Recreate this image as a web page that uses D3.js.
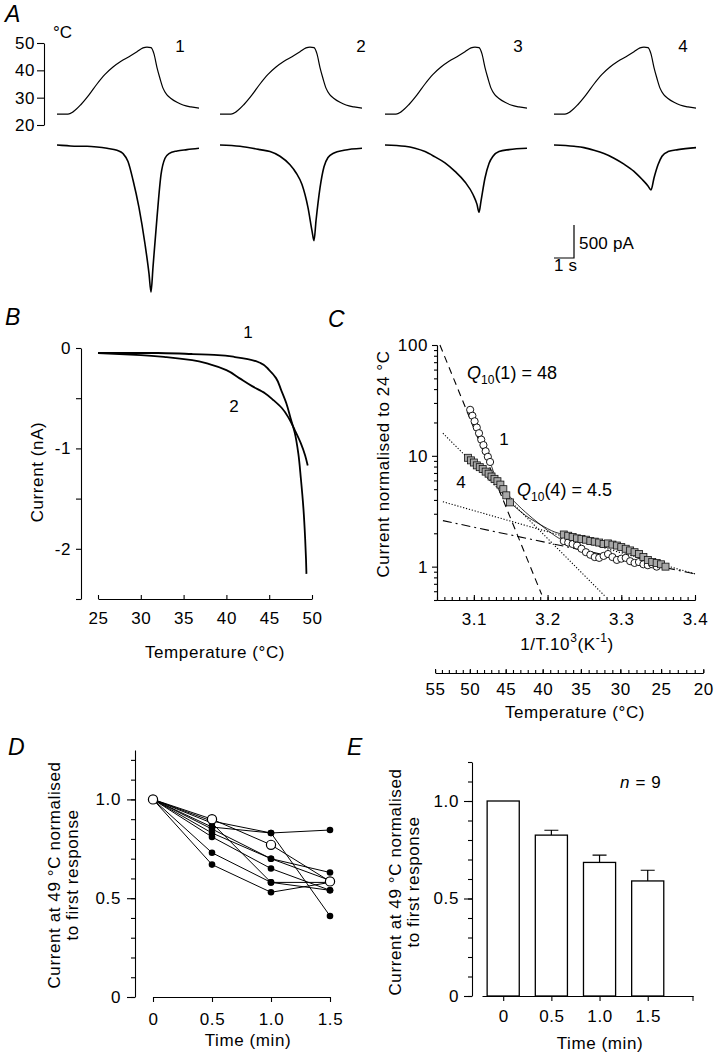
<!DOCTYPE html>
<html>
<head>
<meta charset="utf-8">
<script src="https://cdn.jsdelivr.net/npm/d3@7/dist/d3.min.js"></script>
<style>
  html,body{margin:0;padding:0;background:#fff;}
  svg{display:block;}
  text{font-family:"Liberation Sans",Arial,Helvetica,sans-serif;fill:#000;}
</style>
</head>
<body>
<svg id="fig" width="717" height="1060" xmlns="http://www.w3.org/2000/svg"></svg>
<script>
// ======================= DATA =======================
// Panel A – temperature ramp (time in s, temperature in °C)
const rampTimes = [0,0.55,0.8,1.2,1.6,2.0,2.4,2.8,3.2,3.6,4.0,4.3,4.5,4.7,4.85,5.0,5.15,5.3,5.5,5.7,6.0,6.3,6.7,7.1];
const rampTemps = [24,24,24.8,27.5,31,35,38.5,41.2,43.3,45,46.8,48.2,48.5,48.3,46,41,37,33.5,31,29.7,28.3,27.3,26.6,26.2];
const stimLabels = ["1","2","3","4"];
const tempTicks = [20,30,40,50];
// Panel A – membrane currents (time in s, current in nA)
const cur1T = [0,0.5,1,1.5,2,2.5,3.0,3.3,3.55,3.8,4.1,4.4,4.6,4.7,4.8,5.0,5.2,5.4,5.6,6.0,6.5,7.1];
const cur1V = [0,-0.01,-0.02,-0.02,-0.03,-0.05,-0.08,-0.13,-0.25,-0.53,-0.95,-1.5,-1.95,-2.23,-1.85,-1.1,-0.45,-0.2,-0.13,-0.09,-0.07,-0.05];
const cur2T = [0,1,2,2.5,3.0,3.5,3.8,4.1,4.4,4.6,4.7,4.8,5.0,5.2,5.4,5.7,6.2,7.1];
const cur2V = [0,-0.02,-0.07,-0.1,-0.17,-0.3,-0.42,-0.6,-0.95,-1.3,-1.45,-1.15,-0.65,-0.33,-0.19,-0.12,-0.08,-0.05];
const cur3T = [0,1,1.5,2,2.5,3,3.5,4,4.4,4.6,4.7,4.8,5.0,5.2,5.4,5.7,6.2,7.1];
const cur3V = [0,-0.02,-0.05,-0.1,-0.18,-0.27,-0.4,-0.56,-0.75,-0.9,-1.02,-0.85,-0.5,-0.28,-0.17,-0.1,-0.07,-0.05];
const cur4T = [0,1,1.5,2,2.5,3,3.5,4,4.4,4.7,4.85,5.0,5.2,5.4,5.7,6.2,7.1];
const cur4V = [0,-0.02,-0.04,-0.08,-0.13,-0.2,-0.29,-0.4,-0.52,-0.62,-0.68,-0.5,-0.3,-0.17,-0.1,-0.07,-0.04];
const scaleBarCurrent = 0.5; // nA (500 pA)
const scaleBarTime = 1;      // s

// Panel B – current vs temperature (°C, nA)
const b1T = [25,28,32,36,39,41,42.5,44,45,45.8,46.4,47,47.5,48,48.4,48.7,49,49.2,49.3,49.35];
const b1V = [-0.05,-0.05,-0.05,-0.06,-0.07,-0.09,-0.11,-0.15,-0.22,-0.3,-0.42,-0.55,-0.7,-0.85,-1.05,-1.3,-1.6,-1.9,-2.1,-2.25];
const b2T = [25,30,33,36,38,40,41.5,43,44.5,45.5,46.5,47.3,48,48.7,49.2,49.5];
const b2V = [-0.05,-0.07,-0.09,-0.12,-0.16,-0.22,-0.3,-0.38,-0.45,-0.52,-0.6,-0.7,-0.82,-0.95,-1.07,-1.17];
const bTempTicks = [25,30,35,40,45,50];
const bCurTicks = [0,-0.5,-1,-1.5,-2,-2.5];
const bCurLabels = [0,-1,-2];

// Panel C – Arrhenius plot (1/T·10³ K⁻¹, current normalised to 24 °C)
const c1X = [3.095,3.098,3.101,3.104,3.107,3.110,3.113,3.116,3.119,3.122,3.222,3.228,3.234,3.240,3.246,3.252,3.258,3.264,3.270,3.276,3.282,3.288,3.294,3.300,3.306,3.312,3.318,3.324,3.330,3.336,3.342,3.348];
const c1Y = [26,23,20.5,18,16,14,12.5,11,9.8,8.8,1.7,1.65,1.6,1.55,1.45,1.35,1.28,1.22,1.2,1.25,1.3,1.22,1.15,1.18,1.2,1.12,1.08,1.1,1.05,1.03,1.05,1.0];
const c1LinkX = [3.122,3.13,3.15,3.17,3.19,3.21,3.222];
const c1LinkY = [8.8,6.3,4.2,3.1,2.4,1.9,1.7];
const c4X = [3.092,3.096,3.100,3.104,3.108,3.112,3.116,3.120,3.124,3.128,3.132,3.136,3.140,3.144,3.149,3.222,3.228,3.234,3.240,3.246,3.252,3.258,3.264,3.270,3.276,3.282,3.288,3.294,3.300,3.306,3.312,3.318,3.324,3.330,3.336,3.342,3.348,3.354,3.360];
const c4Y = [9.6,9.1,8.7,8.2,7.9,7.6,7.2,6.9,6.5,6.2,5.9,5.5,5.0,4.4,3.8,1.95,1.9,1.85,1.8,1.78,1.75,1.7,1.68,1.65,1.6,1.62,1.58,1.55,1.5,1.45,1.4,1.35,1.3,1.22,1.15,1.1,1.08,1.05,1.0];
const c4LinkX = [3.149,3.17,3.19,3.21,3.222];
const c4LinkY = [3.8,2.9,2.4,2.05,1.95];
const fitA_X = [3.054,3.192], fitA_Y = [100,0.56];   // Q10(1) = 48 fit
const fitB_X = [3.058,3.278], fitB_Y = [16,0.54];    // Q10(4) high-T fit
const fitC_X = [3.058,3.40],  fitC_Y = [3.85,0.86];  // low-T fit, cell 4
const fitD_X = [3.058,3.40],  fitD_Y = [2.6,0.86];   // low-T fit, cell 1
const cInvTTicks = [3.1,3.2,3.3,3.4];
const cYTicks = [1,10,100];
const cTempTicks = [55,50,45,40,35,30,25,20];

// Panel D – individual cells (time in min, normalised current)
const dTimes = [0,0.5,1.0,1.5];
const dOpenCell = [1,0.90,0.77,0.585];
const dCells = [
  [1,0.89,0.83,0.845],
  [1,0.88,0.58,0.58],
  [1,0.86,0.83,0.41],
  [1,0.85,0.70,0.63],
  [1,0.83,0.70,0.59],
  [1,0.81,0.65,0.54],
  [1,0.73,0.58,0.54],
  [1,0.67,0.53,0.58]
];
const dYTicks = [0,0.5,1.0];

// Panel E – mean ± s.e.m. (n = 9)
const eTimes = [0,0.5,1.0,1.5];
const eMeans = [1.0,0.825,0.685,0.59];
const eSems  = [0,0.025,0.037,0.055];

// ======================= DRAWING =======================
const svg = d3.select("#fig");
const FONT = '"Liberation Sans",Arial,Helvetica,sans-serif';
const FS = 17;

function label(x, y, str, o = {}) {
  const t = svg.append("text")
    .attr("x", x).attr("y", y)
    .attr("font-size", o.size || FS)
    .attr("text-anchor", o.anchor || "start")
    .attr("letter-spacing", o.ls !== undefined ? o.ls : 0.6)
    .text(str);
  if (o.italic) t.attr("font-style", "italic");
  if (o.rotate) t.attr("transform", `rotate(-90,${x},${y})`);
  return t;
}
function styleAxis(g, size) {
  g.attr("font-size", size || FS).attr("font-family", FONT);
  g.selectAll("text").attr("letter-spacing", 0.6).attr("fill", "#000");
  g.selectAll("line,path").attr("stroke", "#000").attr("stroke-width", 1.1);
}
function noDomain(g) { g.select(".domain").remove(); }

// ---------- Panel A ----------
label(5, 22, "A", {size: 23, italic: true, ls: 0});
label(53, 38, "°C", {ls: 0});
const tA = d3.scaleLinear().domain([0, 7.1]).range([0, 142]);
const yTemp = d3.scaleLinear().domain([20, 50]).range([125, 43]);
const yCur = d3.scaleLinear().domain([0, -2.5]).range([145, 145 + 165]);
const traceX0 = [57, 220, 385, 554];

const axA = svg.append("g").attr("transform", "translate(44,0)")
  .call(d3.axisLeft(yTemp).tickValues(tempTicks).tickSize(7).tickPadding(2).tickSizeOuter(0));
styleAxis(axA);

const tempLine = d3.line().x((d, i) => tA(rampTimes[i])).y(d => yTemp(d)).curve(d3.curveMonotoneX);
const curData = [[cur1T, cur1V], [cur2T, cur2V], [cur3T, cur3V], [cur4T, cur4V]];
const labelOffsetA = [123, 141, 133, 129];
traceX0.forEach((x0, k) => {
  const g = svg.append("g").attr("transform", `translate(${x0},0)`);
  g.append("path").attr("d", tempLine(rampTemps))
    .attr("fill", "none").attr("stroke", "#000").attr("stroke-width", 1.2);
  const [ct, cv] = curData[k];
  const cl = d3.line().x((d, i) => tA(ct[i])).y(d => yCur(d)).curve(d3.curveMonotoneX);
  g.append("path").attr("d", cl(cv))
    .attr("fill", "none").attr("stroke", "#000").attr("stroke-width", 1.6);
  label(x0 + labelOffsetA[k], 52, stimLabels[k], {anchor: "middle", ls: 0});
});
// scale bar
const sbX = 574, sbY = 258;
const sbH = yCur(-scaleBarCurrent) - yCur(0);
const sbW = tA(scaleBarTime) - tA(0);
svg.append("path")
  .attr("d", `M${sbX},${sbY - sbH}V${sbY}H${sbX - sbW}`)
  .attr("fill", "none").attr("stroke", "#000").attr("stroke-width", 1.2);
label(sbX + 5, 249, "500 pA", {ls: 0.2});
label(sbX - sbW, 271, "1 s", {ls: 0.2});

// ---------- Panel B ----------
label(5, 325, "B", {size: 23, italic: true, ls: 0});
const xB = d3.scaleLinear().domain([25, 50]).range([98, 312]);
const yB = d3.scaleLinear().domain([0, -2.5]).range([348, 599]);
const axBy = svg.append("g").attr("transform", "translate(81,0)")
  .call(d3.axisLeft(yB).tickValues(bCurTicks).tickSize(5).tickPadding(5).tickSizeOuter(0)
    .tickFormat(d => bCurLabels.includes(d) ? String(d) : ""));
styleAxis(axBy);
const axBx = svg.append("g").attr("transform", "translate(0,599)")
  .call(d3.axisBottom(xB).tickValues(bTempTicks).tickSizeInner(-4).tickSizeOuter(0).tickPadding(12.5));
styleAxis(axBx);
const lineB1 = d3.line().x((d, i) => xB(b1T[i])).y(d => yB(d)).curve(d3.curveMonotoneY);
const lineB2 = d3.line().x((d, i) => xB(b2T[i])).y(d => yB(d)).curve(d3.curveMonotoneY);
svg.append("path").attr("d", lineB1(b1V)).attr("fill", "none").attr("stroke", "#000").attr("stroke-width", 1.8);
svg.append("path").attr("d", lineB2(b2V)).attr("fill", "none").attr("stroke", "#000").attr("stroke-width", 1.8);
label(248, 338, "1", {anchor: "middle", ls: 0});
label(234, 412, "2", {anchor: "middle", ls: 0});
label(43, 472, "Current  (nA)", {anchor: "middle", rotate: true});
label(215, 658, "Temperature (°C)", {anchor: "middle"});

// ---------- Panel C ----------
label(328, 327, "C", {size: 23, italic: true, ls: 0});
const xC = d3.scaleLinear().domain([3.05, 3.4]).range([437, 695]);
const yC = d3.scaleLog().domain([0.5, 100]).range([600, 345]);
// y axis
const minorLog = [];
[0.1, 1, 10].forEach(dec => d3.range(2, 10).forEach(m => { const v = m * dec; if (v >= 0.5 && v < 100) minorLog.push(v); }));
const axCyMinor = svg.append("g").attr("transform", "translate(437,0)")
  .call(d3.axisLeft(yC).tickValues(minorLog).tickSize(3).tickFormat("").tickSizeOuter(0));
styleAxis(axCyMinor);
const axCy = svg.append("g").attr("transform", "translate(437,0)")
  .call(d3.axisLeft(yC).tickValues(cYTicks).tickSize(5).tickPadding(4).tickFormat(d3.format("d")).tickSizeOuter(0));
styleAxis(axCy);
// x axis (1/T)
const axCxMinor = svg.append("g").attr("transform", "translate(0,600)")
  .call(d3.axisBottom(xC).tickValues(d3.range(3.05, 3.4001, 0.01)).tickSizeInner(-3).tickSizeOuter(0).tickFormat(""));
styleAxis(axCxMinor);
const axCx = svg.append("g").attr("transform", "translate(0,600)")
  .call(d3.axisBottom(xC).tickValues(cInvTTicks).tickSizeInner(-5).tickSizeOuter(0).tickPadding(12.5).tickFormat(d3.format(".1f")));
styleAxis(axCx);
// temperature axis (same reciprocal scale)
const invT = T => 1000 / (T + 273.15);
const xCT = d3.scaleLinear().domain([invT(55), invT(20)]).range([xC(invT(55)), xC(invT(20))]);
const axCtMinor = svg.append("g").attr("transform", "translate(0,673)")
  .call(d3.axisBottom(xCT).tickValues(d3.range(20, 56, 1).map(invT)).tickSizeInner(-3).tickSizeOuter(0).tickFormat(""));
styleAxis(axCtMinor);
const axCt = svg.append("g").attr("transform", "translate(0,673)")
  .call(d3.axisBottom(xCT).tickValues(cTempTicks.map(invT)).tickSizeInner(-4).tickSizeOuter(0).tickPadding(10)
    .tickFormat(v => String(Math.round(1000 / v - 273.15))));
styleAxis(axCt);
noDomain(axCtMinor);

// fits
const fitLine = (xs, ys) => d3.line().x((d, i) => xC(xs[i])).y(d => yC(d))(ys);
const fits = [
  [fitA_X, fitA_Y, "7,5"],
  [fitB_X, fitB_Y, "1.2,1.8"],
  [fitC_X, fitC_Y, "1.2,1.8"],
  [fitD_X, fitD_Y, "9,4,2,4"]
];
fits.forEach(([xs, ys, dash]) => {
  svg.append("path").attr("d", fitLine(xs, ys))
    .attr("fill", "none").attr("stroke", "#000").attr("stroke-width", 1.1)
    .attr("stroke-dasharray", dash);
});
// thin connecting traces
const linkLine = (xs, ys) => d3.line().x((d, i) => xC(xs[i])).y(d => yC(d)).curve(d3.curveMonotoneX)(ys);
svg.append("path").attr("d", linkLine(c1LinkX, c1LinkY)).attr("fill", "none").attr("stroke", "#000").attr("stroke-width", 0.8);
svg.append("path").attr("d", linkLine(c4LinkX, c4LinkY)).attr("fill", "none").attr("stroke", "#000").attr("stroke-width", 0.8);
// markers
svg.append("g").selectAll("circle").data(c1Y).join("circle")
  .attr("cx", (d, i) => xC(c1X[i])).attr("cy", d => yC(d)).attr("r", 3.6)
  .attr("fill", "#fff").attr("stroke", "#000").attr("stroke-width", 0.9);
const sq = 7;
svg.append("g").selectAll("rect").data(c4Y).join("rect")
  .attr("x", (d, i) => xC(c4X[i]) - sq / 2).attr("y", d => yC(d) - sq / 2)
  .attr("width", sq).attr("height", sq)
  .attr("fill", "#a8a8a8").attr("stroke", "#111").attr("stroke-width", 0.8);
// C texts
const q1 = svg.append("text").attr("x", 467).attr("y", 379).attr("font-size", 18);
q1.append("tspan").attr("font-style", "italic").text("Q");
q1.append("tspan").attr("font-size", 12).attr("dy", 5).text("10");
q1.append("tspan").attr("dy", -5).text("(1) = 48");
const q4 = svg.append("text").attr("x", 517).attr("y", 496).attr("font-size", 18);
q4.append("tspan").attr("font-style", "italic").text("Q");
q4.append("tspan").attr("font-size", 12).attr("dy", 5).text("10");
q4.append("tspan").attr("dy", -5).text("(4) = 4.5");
label(504, 445, "1", {anchor: "middle", ls: 0});
label(461, 488, "4", {anchor: "middle", ls: 0});
label(389, 464, "Current normalised to 24 °C", {anchor: "middle", rotate: true});
const xl = svg.append("text").attr("x", 567).attr("y", 650).attr("font-size", FS).attr("text-anchor", "middle").attr("letter-spacing", 0.6);
xl.append("tspan").text("1/T.10");
xl.append("tspan").attr("font-size", 12).attr("dy", -8).text("3");
xl.append("tspan").attr("dy", 8).text("(K");
xl.append("tspan").attr("font-size", 12).attr("dy", -8).text("-1");
xl.append("tspan").attr("dy", 8).text(")");
label(575, 718, "Temperature (°C)", {anchor: "middle"});

// ---------- Panel D ----------
label(8, 755, "D", {size: 23, italic: true, ls: 0});
const xD = d3.scaleLinear().domain([0, 1.5]).range([153, 330]);
const yD = d3.scaleLinear().domain([0, 1.25]).range([997, 750]);
const axDyMinor = svg.append("g").attr("transform", "translate(135,0)")
  .call(d3.axisLeft(yD).tickValues(d3.range(0, 1.201, 0.1)).tickSize(4).tickFormat("").tickSizeOuter(0));
styleAxis(axDyMinor);
const axDy = svg.append("g").attr("transform", "translate(135,0)")
  .call(d3.axisLeft(yD).tickValues(dYTicks).tickSize(8).tickPadding(6).tickSizeOuter(0)
    .tickFormat(d => d === 0 ? "0" : d3.format(".1f")(d)));
styleAxis(axDy); noDomain(axDy);
const axDx = svg.append("g").attr("transform", "translate(0,997)")
  .call(d3.axisBottom(xD).tickValues(dTimes).tickSize(5).tickPadding(11).tickSizeOuter(0)
    .tickFormat(d => d === 0 ? "0" : d3.format(".1f")(d)));
styleAxis(axDx);
const lineD = d3.line().x((d, i) => xD(dTimes[i])).y(d => yD(d));
[...dCells, dOpenCell].forEach(s => {
  svg.append("path").attr("d", lineD(s)).attr("fill", "none").attr("stroke", "#000").attr("stroke-width", 1);
});
dCells.forEach(s => {
  svg.append("g").selectAll("circle").data(s).join("circle")
    .attr("cx", (d, i) => xD(dTimes[i])).attr("cy", d => yD(d)).attr("r", 3.3).attr("fill", "#000");
});
svg.append("g").selectAll("circle").data(dOpenCell).join("circle")
  .attr("cx", (d, i) => xD(dTimes[i])).attr("cy", d => yD(d)).attr("r", 4.6)
  .attr("fill", "#fff").attr("stroke", "#000").attr("stroke-width", 1.2);
label(60, 875, "Current at 49 °C normalised", {anchor: "middle", rotate: true});
label(78, 875, "to first response", {anchor: "middle", rotate: true});
label(248, 1046, "Time (min)", {anchor: "middle"});

// ---------- Panel E ----------
label(347, 755, "E", {size: 23, italic: true, ls: 0});
const xE = d3.scaleLinear().domain([-0.22, 1.97]).range([482, 693]);
const yE = d3.scaleLinear().domain([0, 1.2]).range([996, 762]);
const barW = (xE(0.5) - xE(0)) * 2 / 3;
const axEyMinor = svg.append("g").attr("transform", "translate(472,0)")
  .call(d3.axisLeft(yE).tickValues(d3.range(0, 1.201, 0.1)).tickSize(4).tickFormat("").tickSizeOuter(0));
styleAxis(axEyMinor);
const axEy = svg.append("g").attr("transform", "translate(472,0)")
  .call(d3.axisLeft(yE).tickValues(dYTicks).tickSize(8).tickPadding(5).tickSizeOuter(0)
    .tickFormat(d => d === 0 ? "0" : d3.format(".1f")(d)));
styleAxis(axEy); noDomain(axEy);
const axEx = svg.append("g").attr("transform", "translate(0,996)")
  .call(d3.axisBottom(xE).tickValues(eTimes).tickSize(5).tickPadding(9).tickSizeOuter(0)
    .tickFormat(d => d === 0 ? "0" : d3.format(".1f")(d)));
styleAxis(axEx);
svg.append("line").attr("x1", xE(1.97)).attr("x2", xE(1.97)).attr("y1", 996).attr("y2", 1001)
  .attr("stroke", "#000").attr("stroke-width", 1.1);
// error bars
eTimes.forEach((t, i) => {
  if (eSems[i] > 0) {
    const cx = xE(t);
    svg.append("path")
      .attr("d", `M${cx},${yE(eMeans[i])}V${yE(eMeans[i] + eSems[i])}M${cx - 7},${yE(eMeans[i] + eSems[i])}H${cx + 7}`)
      .attr("fill", "none").attr("stroke", "#000").attr("stroke-width", 1.2);
  }
});
svg.append("g").selectAll("rect").data(eMeans).join("rect")
  .attr("x", (d, i) => xE(eTimes[i]) - barW / 2).attr("width", barW)
  .attr("y", d => yE(d)).attr("height", d => yE(0) - yE(d))
  .attr("fill", "#fff").attr("stroke", "#000").attr("stroke-width", 1.3);
const nt = svg.append("text").attr("x", 620).attr("y", 788).attr("font-size", FS).attr("letter-spacing", 0.6);
nt.append("tspan").attr("font-style", "italic").text("n");
nt.append("tspan").text(" = 9");
label(401, 882, "Current at 49 °C normalised", {anchor: "middle", rotate: true});
label(419, 882, "to first response", {anchor: "middle", rotate: true});
label(600, 1049, "Time (min)", {anchor: "middle"});
</script>
</body>
</html>
